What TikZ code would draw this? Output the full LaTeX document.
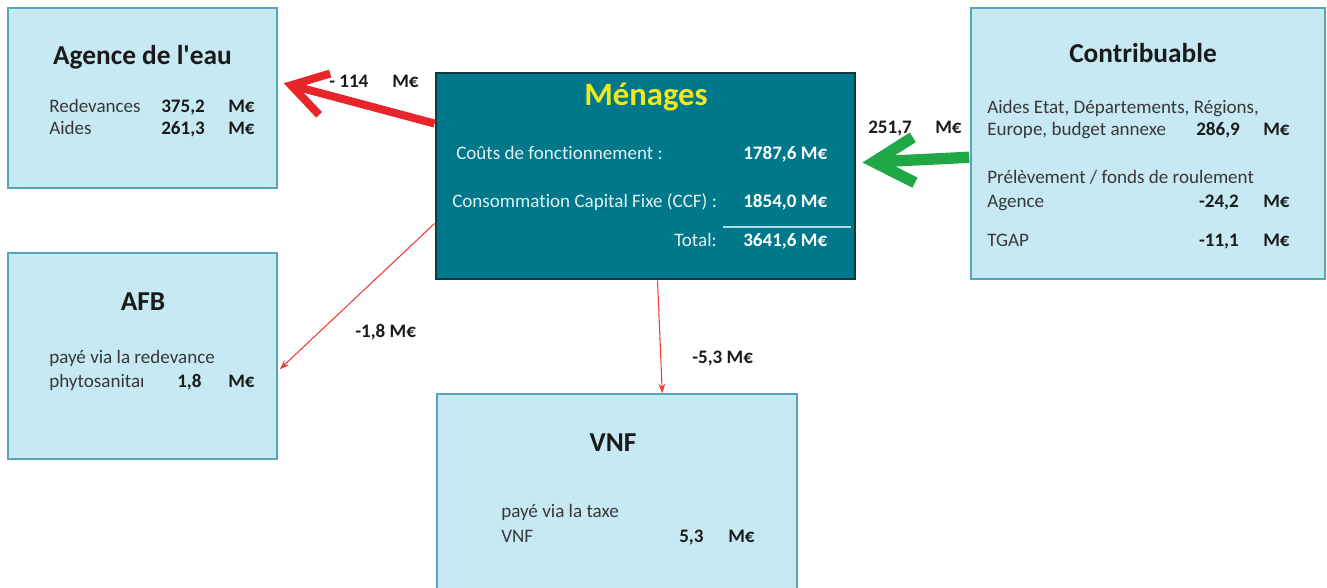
\documentclass[tikz,border=0pt]{standalone}
\usepackage{fontspec}
\setmainfont{Carlito}[Ligatures={NoCommon,TeXOff}]
\usetikzlibrary{arrows.meta,calc,fit}
\definecolor{boxfill}{HTML}{C6E9F4}
\definecolor{boxdraw}{HTML}{55A6BC}
\definecolor{menfill}{HTML}{00788C}
\definecolor{mendraw}{HTML}{0E3B44}
\definecolor{txt}{HTML}{383838}
\definecolor{ttl}{HTML}{1A1A1A}
\definecolor{menyel}{HTML}{F2E81C}
\definecolor{mentxt}{HTML}{E4EFF1}
\definecolor{arrred}{HTML}{E8262A}
\definecolor{thinred}{HTML}{EE3B3B}
\definecolor{arrgreen}{HTML}{1FA845}
\definecolor{rule}{HTML}{B4DEE7}
\tikzset{
  lightbox/.style={draw=boxdraw, line width=1.1pt, fill=boxfill, inner sep=0pt},
  menbox/.style={draw=mendraw, line width=2.2pt, fill=menfill, inner sep=0pt},
  tx/.style={anchor=base west, inner sep=0pt, font=\fontsize{14.3}{17}\selectfont, text=txt},
  txr/.style={tx, anchor=base east},
  num/.style={tx, font=\fontsize{14.3}{17}\selectfont\bfseries, text=ttl},
  title/.style={anchor=base, inner sep=0pt, font=\fontsize{20.5}{24}\selectfont\bfseries, text=ttl},
  mtx/.style={tx, text=mentxt},
  mnum/.style={num, text=white},
  lbl/.style={num},
  bigred/.style={draw=arrred, line width=6pt, -{Straight Barb[length=26pt,width=32pt]}},
  biggreen/.style={draw=arrgreen, line width=8.5pt, -{Straight Barb[length=30pt,width=34pt]}},
  thinarr/.style={draw=thinred, line width=0.8pt, -{Stealth[length=7pt,width=5pt]}}
}
\begin{document}
\begin{tikzpicture}[x=0.75pt,y=-0.75pt]
\useasboundingbox (0,0) rectangle (1327,587);
\clip (0,0) rectangle (1327,587);
\fill[white] (0,0) rectangle (1327,587);
% boxes
\node[lightbox, fit={(8,8) (277,188)}] (age) {};
\node[lightbox, fit={(8,253) (277,459)}] (afb) {};
\node[menbox, fit={(436,73) (855,279)}] (men) {};
\node[lightbox, fit={(971,8) (1325,279)}] (con) {};
\node[lightbox, fit={(437,394) (797,640)}] (vnf) {};
% Agence de l'eau
\node[title] (ageT) at (142.5,64) {Agence de l'eau};
\node[tx] (ageR) at (49,112) {Redevances};
\node[num] (ageRv) at (161,112) {375,2};
\node[num] (ageRu) at (228,112) {M€};
\node[tx] (ageA) at (49,134) {Aides};
\node[num] (ageAv) at (161,134) {261,3};
\node[num] (ageAu) at (228,134) {M€};
% AFB
\node[title] (afbT) at (143,310) {AFB};
\node[tx] (afbL1) at (49,363) {payé via la redevance};
\node[tx] (afbL2) at (49,387) {phytosanitaı};
\node[num] (afbV) at (177,387) {1,8};
\node[num] (afbU) at (228,387) {M€};
% Menages
\node[anchor=base, inner sep=0pt, font=\fontsize{24.5}{28}\selectfont\bfseries, text=menyel] (menT) at (646,105) {Ménages};
\node[mtx] (menL1) at (456,159) {Coûts de fonctionnement :};
\node[mnum] (menV1) at (743,159) {1787,6 M€};
\node[mtx] (menL2) at (452,207) {Consommation Capital Fixe (CCF) :};
\node[mnum] (menV2) at (743,207) {1854,0 M€};
\node[mtx, anchor=base east] (menL3) at (717,246) {Total:};
\node[mnum] (menV3) at (743,246) {3641,6 M€};
\draw[rule, line width=1.6pt] (723,227) -- (851,227);
% Contribuable
\node[title] (conT) at (1143,62) {Contribuable};
\node[tx] (conL1) at (987,113) {Aides Etat, Départements, Régions,};
\node[tx] (conL2) at (987,135) {Europe, budget annexe};
\node[num] (conV2) at (1196,135) {286,9};
\node[num] (conU2) at (1263,135) {M€};
\node[tx] (conL3) at (987,183) {Prélèvement / fonds de roulement};
\node[tx] (conL4) at (987,207) {Agence};
\node[num, anchor=base east] (conV4) at (1239,207) {-24,2};
\node[num] (conU4) at (1263,207) {M€};
\node[tx] (conL5) at (987,246) {TGAP};
\node[num, anchor=base east] (conV5) at (1239,246) {-11,1};
\node[num] (conU5) at (1263,246) {M€};
% VNF
\node[title] (vnfT) at (613,451) {VNF};
\node[tx] (vnfL1) at (501,517) {payé via la taxe};
\node[tx] (vnfL2) at (501,542) {VNF};
\node[num] (vnfV) at (679,542) {5,3};
\node[num] (vnfU) at (728,542) {M€};
% connectors
\draw[bigred] ($(men.north west)+(0,52)$) -- ($(age.north east)+(6,76)$);
\draw[biggreen] ($(con.north west)+(-1,150)$) -- ($(men.north east)+(6,91)$);
\draw[thinarr] ($(men.north west)+(0,152)$) -- ($(afb.north east)+(2,117)$);
\draw[thinarr] ($(men.south west)+(223,0)$) -- ($(vnf.north west)+(226,0)$);
% labels
\node[lbl] (l114) at (329,87) {- 114};
\node[lbl] (l114u) at (392,87) {M€};
\node[lbl] (l251) at (868,133) {251,7};
\node[lbl] (l251u) at (935,133) {M€};
\node[lbl] (l18) at (355,337) {-1,8 M€};
\node[lbl] (l53) at (692,363) {-5,3 M€};
\end{tikzpicture}
\end{document}
